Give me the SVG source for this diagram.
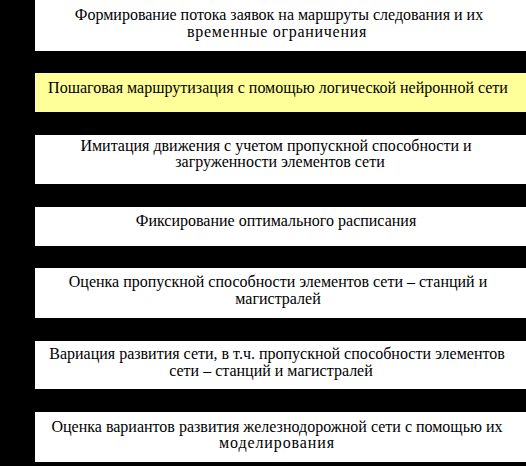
<svg xmlns="http://www.w3.org/2000/svg" width="526" height="466" viewBox="0 0 526 466">
<style>
.box{fill:#ffffff;}
.hl{fill:#ffff99;}
text{font-family:"Liberation Serif","Times New Roman",serif;font-size:16px;fill:#000;text-anchor:middle;}
.wide{letter-spacing:0.7px;}
</style>
<rect x="0" y="0" width="526" height="466" fill="#000"/>
<g id="connectors"></g>
<g id="n1"><rect class="box" x="35" y="0" width="491" height="51"/><text x="279" y="19.5">Формирование потока заявок на  маршруты следования и их</text><text class="wide" x="277" y="37.3">временные ограничения</text></g>
<g id="n2"><rect class="hl" x="35" y="73" width="491" height="39"/><text x="278" y="93.3">Пошаговая маршрутизация с помощью логической нейронной сети</text></g>
<g id="n3"><rect class="box" x="35" y="135" width="491" height="49"/><text x="276" y="151">Имитация движения с учетом пропускной способности и</text><text x="280" y="166.7">загруженности элементов сети</text></g>
<g id="n4"><rect class="box" x="35" y="207" width="491" height="39"/><text x="276" y="226">Фиксирование оптимального расписания</text></g>
<g id="n5"><rect class="box" x="35" y="268" width="491" height="50"/><text x="278" y="286.7">Оценка пропускной способности элементов сети – станций и</text><text x="278" y="304.3">магистралей</text></g>
<g id="n6"><rect class="box" x="35" y="341" width="491" height="48"/><text x="277" y="359.3">Вариация развития сети, в т.ч.  пропускной способности элементов</text><text x="271" y="376">сети – станций и магистралей</text></g>
<g id="n7"><rect class="box" x="35" y="412" width="491" height="50"/><text x="277" y="431.7">Оценка вариантов развития железнодорожной сети с помощью их</text><text class="wide" x="277" y="448.3" style="letter-spacing:0.9px">моделирования</text></g>
</svg>
